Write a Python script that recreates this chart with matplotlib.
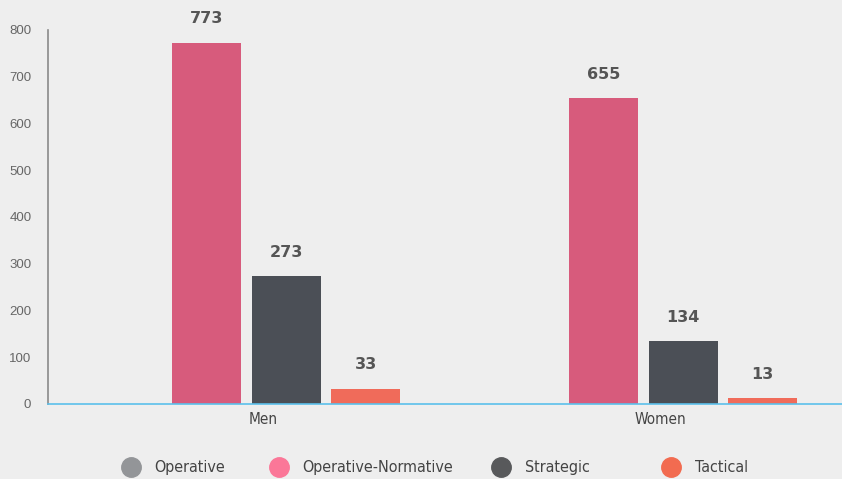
"""Bar chart: level of position by gender."""

import matplotlib.pyplot as plt
import numpy as np

categories = ["Men", "Women"]
series_names = ["Operative", "Operative-Normative", "Strategic", "Tactical"]
operative = [0, 0]
operative_normative = [773, 655]
strategic = [273, 134]
tactical = [33, 13]

bar_colors = ["#939598", "#d75b7c", "#4b4f56", "#f06b5a"]
legend_colors = ["#939598", "#fb7798", "#58595b", "#f26b50"]
legend_x = [0.155, 0.331, 0.595, 0.797]

BG = "#eeeeee"
thin = dict(family="DejaVu Sans", stretch="condensed", weight="light")

fig = plt.figure(figsize=(8.42, 4.79), dpi=100, facecolor=BG)
ax = fig.add_axes([0.057, 0.1566, 0.943, 0.7808], facecolor=BG)

x = np.arange(len(categories))
width = 0.174
step = 0.2
values = [operative, operative_normative, strategic, tactical]
for i, (vals, color) in enumerate(zip(values, bar_colors)):
    offset = (i - 1.5) * step
    bars = ax.bar(x + offset, vals, width, color=color, zorder=2)
    if i == 0:
        continue
    for rect, v in zip(bars, vals):
        ax.annotate(str(v), (rect.get_x() + rect.get_width() / 2, v),
                    xytext=(0, 17), textcoords="offset points",
                    ha="center", va="center", fontsize=11.5,
                    fontweight="bold", color="#555555")

ax.set_xlim(-0.5, 1.5)
ax.set_ylim(0, 800)
ax.set_yticks(range(0, 801, 100))
ax.set_xticks(x + 0.043)
ax.set_xticklabels(categories, fontsize=11, color="#444444", **thin)
ax.tick_params(axis="x", length=0, pad=6)
ax.tick_params(axis="y", length=0, pad=12, labelsize=9.5, labelcolor="#666666")
for lbl in ax.get_yticklabels():
    lbl.set_family(["Liberation Sans", "DejaVu Sans"])

for side in ["top", "right"]:
    ax.spines[side].set_visible(False)
ax.spines["left"].set_color("#8a8a8a")
ax.spines["left"].set_linewidth(1.2)
ax.spines["bottom"].set_color("#5bc0eb")
ax.spines["bottom"].set_linewidth(1.2)

# legend drawn by hand to keep the uneven spacing
for name, color, lx in zip(series_names, legend_colors, legend_x):
    fig.lines.append(plt.Line2D([lx], [0.025], marker="o", markersize=14,
                                color=color, transform=fig.transFigure))
    fig.text(lx + 0.028, 0.025, name, fontsize=11.5, color="#444444",
             va="center", ha="left", **thin)

fig.savefig("out.png", dpi=100, facecolor=BG)
